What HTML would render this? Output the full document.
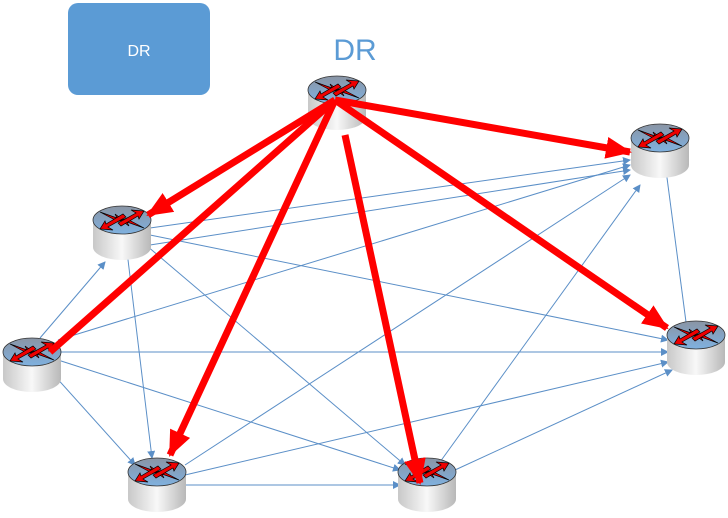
<!DOCTYPE html>
<html><head><meta charset="utf-8"><style>
html,body{margin:0;padding:0;background:#fff;width:728px;height:518px;overflow:hidden}
</style></head><body>
<svg width="728" height="518" viewBox="0 0 728 518" xmlns="http://www.w3.org/2000/svg">
<defs>
<linearGradient id="body" x1="0" x2="1" y1="0" y2="0">
<stop offset="0" stop-color="#c8c8c8"/><stop offset="0.5" stop-color="#f8f8f8"/><stop offset="1" stop-color="#b8b8b8"/></linearGradient>
<linearGradient id="top" x1="0" x2="0" y1="0" y2="1">
<stop offset="0" stop-color="#8a94a4"/><stop offset="1" stop-color="#7fb1e0"/></linearGradient>
<marker id="ab" markerWidth="8" markerHeight="8" refX="7" refY="4" orient="auto" markerUnits="userSpaceOnUse"><path d="M0,0 L8,4 L0,8 z" fill="#5b8fc7"/></marker>
<marker id="ar" markerWidth="26" markerHeight="22" refX="24" refY="11" orient="auto" markerUnits="userSpaceOnUse"><path d="M0,0 L26,11 L0,22 z" fill="#f00"/></marker>
<g id="rt">
<path d="M-29,0 L-29,27 A29,13 0 0 0 29,27 L29,0 z" fill="url(#body)"/>
<ellipse cx="0" cy="0" rx="29" ry="14" fill="url(#top)" stroke="#333" stroke-width="0.8"/>
<g stroke="#000" stroke-width="0.7" fill="#e00">
<path d="M-22,-8 L-5,-2 L-7,-6 L1,0 L-9,3 L-7,0 z"/>
<path d="M22,8 L5,2 L7,6 L-1,0 L9,-3 L7,0 z"/>
<path d="M-4,3 L14,-7 L9,-10 L22,-9 L17,-1 L16,-4 L-1,6 z"/>
<path d="M4,-3 L-14,7 L-9,10 L-22,9 L-17,1 L-16,4 L1,-6 z"/>
</g>
</g>
</defs>
<rect x="68" y="3" width="142" height="92" rx="10" fill="#5b9bd5"/>
<text x="139" y="56" font-family="Liberation Sans, sans-serif" font-size="16" fill="#fff" text-anchor="middle">DR</text>
<text x="355" y="60" font-family="Liberation Sans, sans-serif" font-size="30" fill="#5b9bd5" text-anchor="middle">DR</text>
<g stroke="#5b8fc7" stroke-width="1" fill="none" marker-end="url(#ab)">
<line x1="150" y1="228" x2="630" y2="160"/>
<line x1="150" y1="235" x2="668" y2="340"/>
<line x1="140" y1="240" x2="405" y2="465"/>
<line x1="125" y1="235" x2="152" y2="458"/>
<line x1="58" y1="340" x2="630" y2="165"/>
<line x1="60" y1="352" x2="668" y2="352"/>
<line x1="58" y1="360" x2="400" y2="470"/>
<line x1="45" y1="365" x2="135" y2="465"/>
<line x1="40" y1="338" x2="105" y2="262"/>
<line x1="185" y1="465" x2="630" y2="175"/>
<line x1="185" y1="475" x2="668" y2="362"/>
<line x1="185" y1="485" x2="400" y2="485"/>
<line x1="440" y1="462" x2="640" y2="185"/>
<line x1="455" y1="470" x2="672" y2="370"/>
<line x1="686" y1="322" x2="664" y2="155"/>
<line x1="150" y1="245" x2="630" y2="170"/>
</g>
<use href="#rt" x="337" y="90"/>
<use href="#rt" x="660" y="138"/>
<use href="#rt" x="122" y="220"/>
<use href="#rt" x="32" y="352"/>
<use href="#rt" x="696" y="335"/>
<use href="#rt" x="157" y="472"/>
<use href="#rt" x="427" y="472"/>
<g stroke="#f00" stroke-width="7" fill="none" marker-end="url(#ar)">
<line x1="335" y1="100" x2="630" y2="152"/>
<line x1="335" y1="100" x2="667" y2="328"/>
<line x1="335" y1="100" x2="148" y2="215"/>
<line x1="335" y1="100" x2="170" y2="455"/>
<line x1="345" y1="135" x2="420" y2="483"/>
</g>
<line x1="335" y1="100" x2="50" y2="352" stroke="#f00" stroke-width="7"/>
</svg>
</body></html>
